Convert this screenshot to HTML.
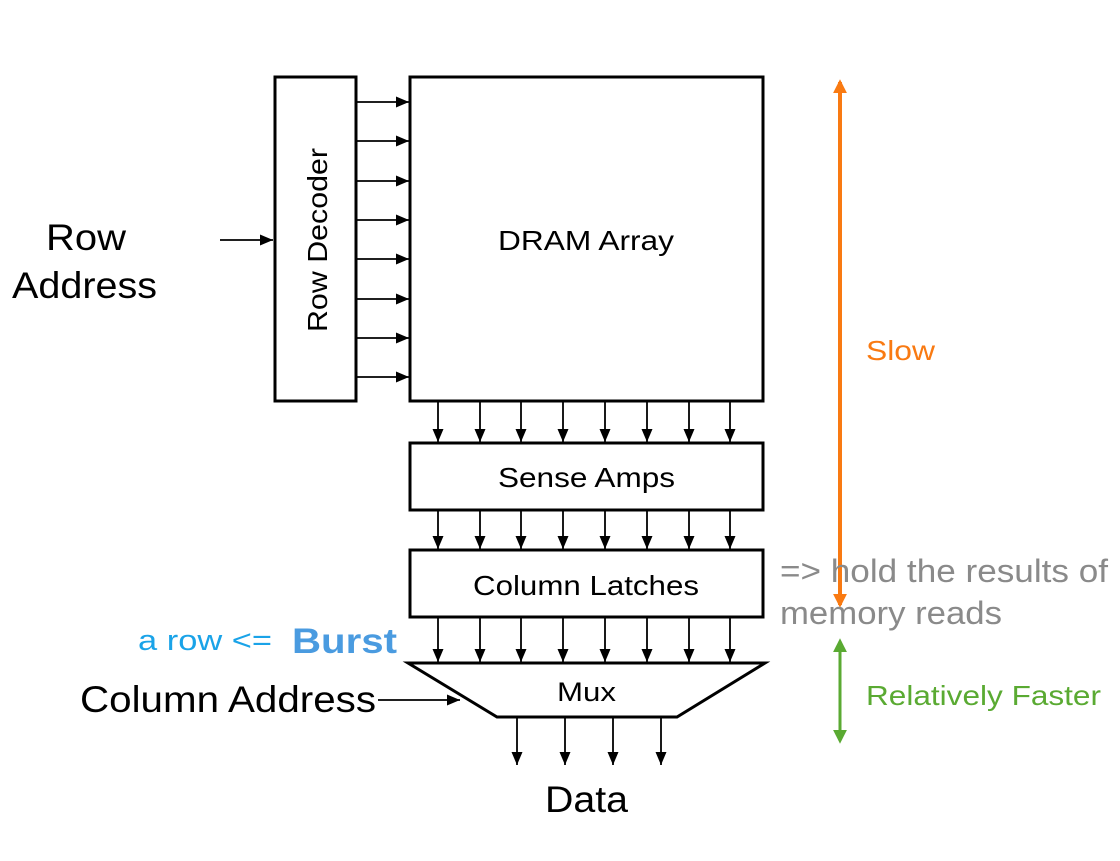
<!DOCTYPE html>
<html><head><meta charset="utf-8"><style>
body{margin:0;background:#fff;width:1120px;height:856px;overflow:hidden}
svg text{font-family:"Liberation Sans",Arial,sans-serif}
</style></head><body>
<svg width="1120" height="856" viewBox="0 0 1120 856" xmlns="http://www.w3.org/2000/svg">
<defs>
<marker id="a" viewBox="0 0 10 10" refX="10" refY="5" markerWidth="13" markerHeight="11" markerUnits="userSpaceOnUse" orient="auto" preserveAspectRatio="none"><path d="M0,0L10,5L0,10z" fill="#000"/></marker>
<marker id="o" viewBox="0 0 10 10" refX="8" refY="5" markerWidth="14" markerHeight="14" markerUnits="userSpaceOnUse" orient="auto-start-reverse"><path d="M0,0L10,5L0,10z" fill="#f97a12"/></marker>
<marker id="g" viewBox="0 0 10 10" refX="8" refY="5" markerWidth="14" markerHeight="14" markerUnits="userSpaceOnUse" orient="auto-start-reverse"><path d="M0,0L10,5L0,10z" fill="#5aaa32"/></marker>
</defs>
<g stroke="#000" fill="none">
<rect x="275" y="77" width="81" height="324" stroke-width="3"/>
<rect x="410" y="77" width="353" height="324" stroke-width="3"/>
<rect x="410" y="443" width="353" height="67" stroke-width="3"/>
<rect x="410" y="550" width="353" height="67" stroke-width="3"/>
<path d="M408,663 L765,663 L677,717 L497,717 Z" stroke-width="3"/>
</g>
<g stroke-width="1.8" stroke="#000" marker-end="url(#a)" fill="none">
<line x1="220" y1="240" x2="273" y2="240"/>
<line x1="356" y1="102" x2="409" y2="102"/>
<line x1="356" y1="141" x2="409" y2="141"/>
<line x1="356" y1="181" x2="409" y2="181"/>
<line x1="356" y1="220" x2="409" y2="220"/>
<line x1="356" y1="259" x2="409" y2="259"/>
<line x1="356" y1="299" x2="409" y2="299"/>
<line x1="356" y1="338" x2="409" y2="338"/>
<line x1="356" y1="377" x2="409" y2="377"/>
<line x1="378" y1="700" x2="460" y2="700"/>
<line x1="438" y1="401" x2="438" y2="442"/><line x1="480" y1="401" x2="480" y2="442"/><line x1="521" y1="401" x2="521" y2="442"/><line x1="563" y1="401" x2="563" y2="442"/><line x1="605" y1="401" x2="605" y2="442"/><line x1="647" y1="401" x2="647" y2="442"/><line x1="689" y1="401" x2="689" y2="442"/><line x1="730" y1="401" x2="730" y2="442"/>
<line x1="438" y1="510" x2="438" y2="549"/><line x1="480" y1="510" x2="480" y2="549"/><line x1="521" y1="510" x2="521" y2="549"/><line x1="563" y1="510" x2="563" y2="549"/><line x1="605" y1="510" x2="605" y2="549"/><line x1="647" y1="510" x2="647" y2="549"/><line x1="689" y1="510" x2="689" y2="549"/><line x1="730" y1="510" x2="730" y2="549"/>
<line x1="438" y1="617" x2="438" y2="662"/><line x1="480" y1="617" x2="480" y2="662"/><line x1="521" y1="617" x2="521" y2="662"/><line x1="563" y1="617" x2="563" y2="662"/><line x1="605" y1="617" x2="605" y2="662"/><line x1="647" y1="617" x2="647" y2="662"/><line x1="689" y1="617" x2="689" y2="662"/><line x1="730" y1="617" x2="730" y2="662"/>
<line x1="517" y1="717" x2="517" y2="765"/><line x1="565" y1="717" x2="565" y2="765"/><line x1="613" y1="717" x2="613" y2="765"/><line x1="661" y1="717" x2="661" y2="765"/>
</g>
<line x1="840" y1="82" x2="840" y2="605" stroke="#f97a12" stroke-width="4" marker-start="url(#o)" marker-end="url(#o)"/>
<line x1="840" y1="641" x2="840" y2="741" stroke="#5aaa32" stroke-width="3" marker-start="url(#g)" marker-end="url(#g)"/>
<g lengthAdjust="spacingAndGlyphs">
<text x="46" y="250" font-size="37" textLength="80" lengthAdjust="spacingAndGlyphs">Row</text>
<text x="12" y="298" font-size="37" textLength="145" lengthAdjust="spacingAndGlyphs">Address</text>
<text transform="translate(327,332) rotate(-90)" font-size="28" textLength="184" lengthAdjust="spacingAndGlyphs">Row Decoder</text>
<text x="498" y="250" font-size="28" textLength="176" lengthAdjust="spacingAndGlyphs">DRAM Array</text>
<text x="498" y="487" font-size="28" textLength="177" lengthAdjust="spacingAndGlyphs">Sense Amps</text>
<text x="473" y="595" font-size="28" textLength="226" lengthAdjust="spacingAndGlyphs">Column Latches</text>
<text x="557" y="701" font-size="27" textLength="59" lengthAdjust="spacingAndGlyphs">Mux</text>
<text x="80" y="712" font-size="37" textLength="296" lengthAdjust="spacingAndGlyphs">Column Address</text>
<text x="545" y="812" font-size="37" textLength="83" lengthAdjust="spacingAndGlyphs">Data</text>
<text x="138" y="650" font-size="29" fill="#1aa3e8" textLength="134" lengthAdjust="spacingAndGlyphs">a row &lt;=</text>
<text x="292" y="653" font-size="35" font-weight="bold" fill="#4a9be0" textLength="105" lengthAdjust="spacingAndGlyphs">Burst</text>
<text x="866" y="360" font-size="28" fill="#f97a12" textLength="69" lengthAdjust="spacingAndGlyphs">Slow</text>
<text x="866" y="705" font-size="28" fill="#5aaa32" textLength="235" lengthAdjust="spacingAndGlyphs">Relatively Faster</text>
<text x="780" y="582" font-size="32" fill="#8a8a8a" textLength="328" lengthAdjust="spacingAndGlyphs">=&gt; hold the results of</text>
<text x="780" y="624" font-size="32" fill="#8a8a8a" textLength="222" lengthAdjust="spacingAndGlyphs">memory reads</text>
</g>
</svg>
</body></html>
